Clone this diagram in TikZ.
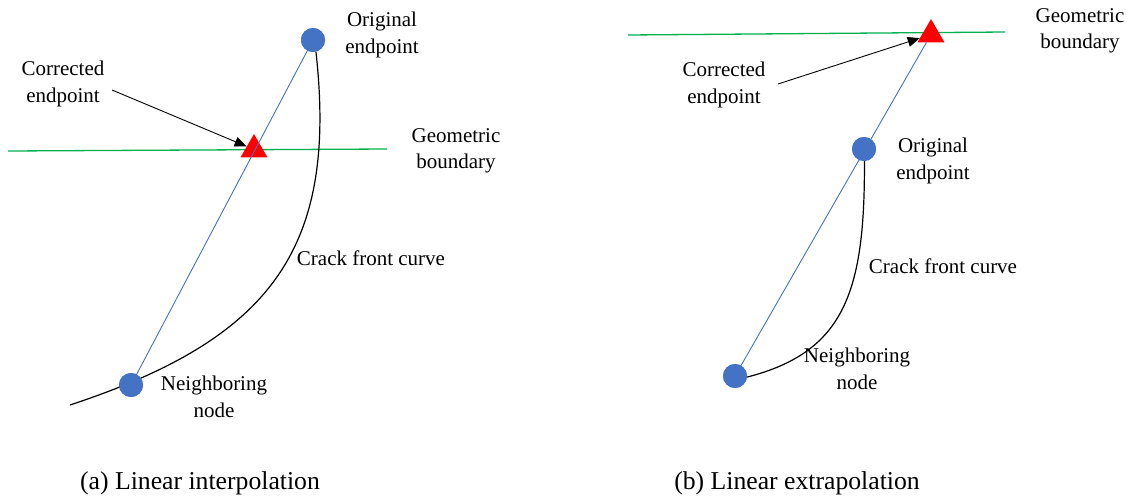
\documentclass[tikz,border=0pt]{standalone}
\usepackage{fontspec}
\setmainfont{Liberation Serif}
\usetikzlibrary{shapes.geometric,arrows.meta}
\definecolor{ptblue}{RGB}{68,114,196}
\definecolor{bndgreen}{RGB}{0,176,80}
\tikzset{
  pt/.style={circle,fill=ptblue,inner sep=0pt,minimum size=24pt},
  tri/.style={regular polygon,regular polygon sides=3,fill=red,inner sep=0pt,minimum size=31pt},
  lbl/.style={align=center,inner sep=0pt,font=\fontsize{21}{26.5}\selectfont},
  captext/.style={inner sep=0pt,font=\fontsize{25.7}{30}\selectfont},
  bnd/.style={draw=bndgreen,line width=1.3pt},
  chord/.style={draw=ptblue,line width=0.9pt},
  crack/.style={draw=black,line width=1.2pt},
  pointer/.style={draw=black,line width=0.9pt,-{Triangle[length=12pt,width=10pt]}},
}
\begin{document}
\begin{tikzpicture}[x=1pt,y=-1pt]
\useasboundingbox (0,0) rectangle (1136,498);
% ---------- panel (a) ----------
\coordinate (ga1) at (8,151);
\coordinate (ga2) at (387,149);
\draw[bnd] (ga1) -- (ga2);
\node[tri] (ta) at (254,149.5) {};
\node[pt] (oa) at (313,40) {};
\node[pt] (na) at (131,385) {};
\draw[chord] (na.center) -- (oa.center);
\coordinate (ca0) at (70,405);
\draw[crack] (ca0) .. controls (270,339) and (338,250) .. (oa.-76);
\node[pt] at (313,40) {};
\node[pt] at (131,385) {};
\coordinate (pa) at (112,90);
\draw[pointer] (pa) -- (ta);
\node[lbl] (loa) at (382,35) {Original\\endpoint};
\node[lbl] (lca) at (63,84) {Corrected\\endpoint};
\node[lbl] (lga) at (456,151) {Geometric\\boundary};
\node[lbl] (lcfa) at (371,258) {Crack front curve};
\node[lbl] (lna) at (214,397) {Neighboring\\node};
\node[captext] (capa) at (200,483) {(a) Linear interpolation};
% ---------- panel (b) ----------
\coordinate (gb1) at (628,35);
\coordinate (gb2) at (1005,32);
\draw[bnd] (gb1) -- (gb2);
\node[tri] (tb) at (931,34.5) {};
\node[pt] (nb) at (735,376) {};
\node[pt] (ob) at (864,149) {};
\draw[chord] (nb.center) -- (tb);
\draw[crack] (ob.-88) .. controls (865,291) and (845,352) .. (nb.-5);
\node[pt] at (864,149) {};
\node[pt] at (735,376) {};
\coordinate (pb) at (778,84);
\draw[pointer] (pb) -- (tb);
\node[lbl] (lgb) at (1080,31) {Geometric\\boundary};
\node[lbl] (lcb) at (724,85) {Corrected\\endpoint};
\node[lbl] (lob) at (933,161) {Original\\endpoint};
\node[lbl] (lcfb) at (943,266) {Crack front curve};
\node[lbl] (lnb) at (857,369) {Neighboring\\node};
\node[captext] (capb) at (797,483) {(b) Linear extrapolation};
\end{tikzpicture}
\end{document}
